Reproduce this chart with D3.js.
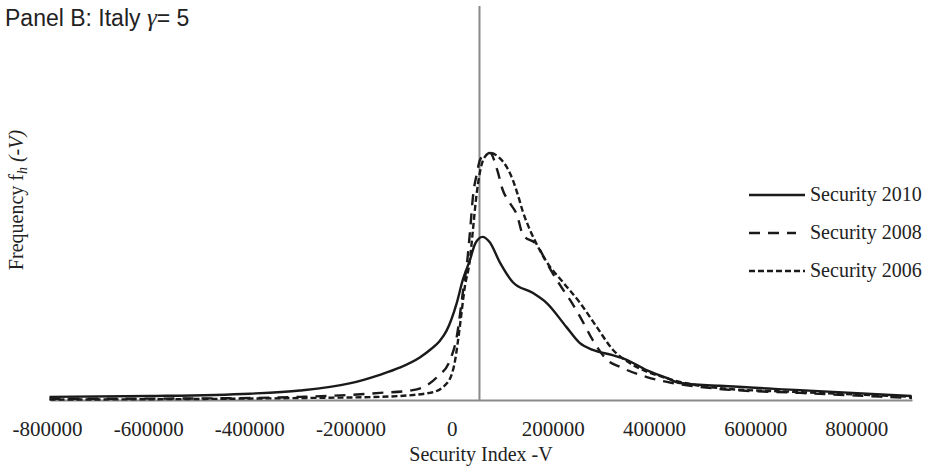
<!DOCTYPE html>
<html>
<head>
<meta charset="utf-8">
<script src="https://cdn.jsdelivr.net/npm/d3@7"></script>
<style>
  body { margin: 0; background: #fff; }
</style>
</head>
<body>
<div id="chart"></div>
<script>
// x tick labels and domain
const xTicks = [-800000, -600000, -400000, -200000, 0, 200000, 400000, 600000, 800000];
const xDomain = [-794000, 910000];
const vLineAt = 55000;

// Security 2010 (solid)
const sec2010 = [
  [-795000, 0.8], [-597000, 1.0], [-399000, 1.6], [-300000, 2.4], [-202000, 4.2],
  [-142000, 6.4], [-103000, 8.2], [-63000, 10.8], [-40000, 13.0], [-24000, 14.9],
  [-10000, 17.6], [10000, 24.6], [22000, 30.5], [36000, 35.5], [47000, 39.8],
  [61000, 41.4], [75000, 40.1], [95000, 35.0], [121000, 29.9], [160000, 27.2],
  [188000, 24.6], [227000, 18.5], [253000, 14.5], [279000, 12.7], [318000, 11.4],
  [346000, 10.2], [385000, 7.6], [425000, 5.6], [451000, 4.3], [530000, 3.6],
  [688000, 2.5], [909000, 1.0]
];

// Security 2008 (long dash)
const sec2008 = [
  [-795000, 0.3], [-498000, 0.4], [-300000, 0.8], [-201000, 1.3], [-142000, 1.8],
  [-77000, 2.5], [-29000, 5.8], [-3000, 10.2], [10000, 16.0], [22000, 27.2],
  [31000, 35.5], [37000, 43.9], [42000, 51.5], [50000, 57.6], [56000, 60.9],
  [66000, 62.4], [76000, 62.7], [90000, 58.4], [101000, 53.3], [115000, 50.0],
  [129000, 47.0], [141000, 41.9], [169000, 39.3], [190000, 34.3], [214000, 29.2],
  [234000, 25.4], [254000, 21.1], [279000, 15.2], [307000, 10.2], [333000, 8.4],
  [386000, 5.8], [437000, 4.3], [530000, 2.8], [689000, 1.8], [910000, 0.5]
];

// Security 2006 (short dash)
const sec2006 = [
  [-795000, 0.1], [-300000, 0.5], [-142000, 0.8], [-43000, 1.8], [-9000, 4.3],
  [7000, 10.2], [16000, 18.5], [26000, 28.7], [36000, 35.5], [42000, 43.1],
  [48000, 50.8], [56000, 57.9], [64000, 61.4], [76000, 62.7], [95000, 61.4],
  [109000, 59.1], [121000, 55.8], [131000, 52.0], [141000, 47.7], [155000, 43.1],
  [169000, 39.3], [188000, 35.0], [220000, 29.9], [254000, 24.6], [287000, 18.5],
  [319000, 12.7], [352000, 9.4], [418000, 5.8], [451000, 4.6], [530000, 3.0],
  [689000, 2.0], [910000, 0.8]
];

const seriesNames = ['Security 2010', 'Security 2008', 'Security 2006'];
const seriesData = [sec2010, sec2008, sec2006];
const seriesDash = [null, '11,8', '6,3'];

const width = 934;
const height = 468;
const serif = '"Liberation Serif", "Times New Roman", serif';
const sans = '"Liberation Sans", Arial, sans-serif';

const svg = d3.select('#chart')
  .append('svg')
  .attr('width', width)
  .attr('height', height);

const x = d3.scaleLinear().domain(xDomain).range([50, 912]);
const y = d3.scaleLinear().domain([0, 100]).range([400, 6]);

// vertical reference line
svg.append('line')
  .attr('x1', x(vLineAt)).attr('x2', x(vLineAt))
  .attr('y1', y(100)).attr('y2', y(0))
  .attr('stroke', '#8a8a8a')
  .attr('stroke-width', 2);

// x axis (plain hyphen for negatives, like the original)
const xAxis = svg.append('g')
  .attr('transform', `translate(0,${y(0)})`)
  .call(d3.axisBottom(x).tickValues(xTicks).tickSize(0).tickPadding(21).tickFormat(d => String(d)));
xAxis.select('.domain').attr('stroke', '#8a8a8a').attr('stroke-width', 2);
xAxis.selectAll('text')
  .style('font-family', serif)
  .style('font-size', '21px')
  .attr('fill', '#222');

// curves
const line = d3.line()
  .x(d => x(d[0]))
  .y(d => y(d[1]))
  .curve(d3.curveMonotoneX);

seriesData.forEach((s, i) => {
  svg.append('path')
    .datum(s)
    .attr('fill', 'none')
    .attr('stroke', '#1a1a1a')
    .attr('stroke-width', 2.4)
    .attr('stroke-dasharray', seriesDash[i])
    .attr('d', line);
});

// legend
const legend = svg.append('g');
seriesNames.forEach((name, i) => {
  const ly = 195 + i * 38;
  legend.append('line')
    .attr('x1', 749).attr('x2', i === 1 ? 796 : 805)
    .attr('y1', ly).attr('y2', ly)
    .attr('stroke', '#1a1a1a')
    .attr('stroke-width', 2.4)
    .attr('stroke-dasharray', seriesDash[i]);
  legend.append('text')
    .attr('x', 810).attr('y', ly + 6)
    .style('font-family', serif)
    .style('font-size', '20px')
    .attr('fill', '#222')
    .text(name);
});

// title
const title = svg.append('text')
  .attr('x', 5).attr('y', 26)
  .style('font-family', sans)
  .style('font-size', '23px')
  .attr('fill', '#222');
title.append('tspan').text('Panel B: Italy ');
title.append('tspan').style('font-family', serif).style('font-style', 'italic').style('font-size', '25px').text('γ');
title.append('tspan').text('= 5');

// y label
const yLabel = svg.append('text')
  .attr('transform', 'translate(23,200) rotate(-90)')
  .attr('text-anchor', 'middle')
  .style('font-family', serif)
  .style('font-size', '20px')
  .attr('fill', '#222');
yLabel.append('tspan').text('Frequency f');
yLabel.append('tspan').style('font-style', 'italic').style('font-size', '14px').attr('dy', 4).text('h');
yLabel.append('tspan').style('font-style', 'italic').attr('dy', -4).text(' (-V)');

// x label
svg.append('text')
  .attr('x', 481).attr('y', 461)
  .attr('text-anchor', 'middle')
  .style('font-family', serif)
  .style('font-size', '20px')
  .attr('fill', '#222')
  .text('Security Index -V');
</script>
</body>
</html>
